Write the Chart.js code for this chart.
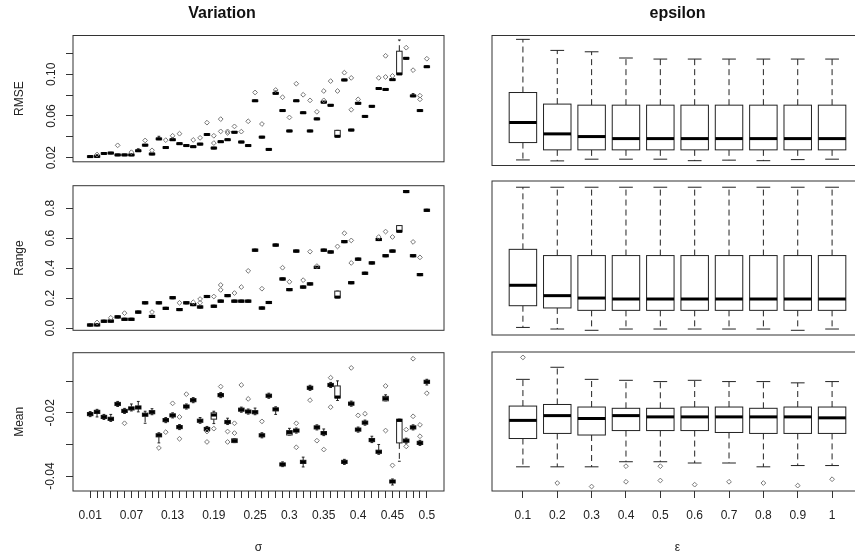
<!DOCTYPE html>
<html>
<head>
<meta charset="utf-8">
<script src="https://cdn.jsdelivr.net/npm/chart.js@4.4.0/dist/chart.umd.min.js"></script>
<style>
  body { margin: 0; background: #fff; width: 855px; height: 555px; overflow: hidden; position: relative; }
  canvas { position: absolute; }
</style>
</head>
<body>
<canvas id="tl" width="460" height="172" style="left:0;top:0"></canvas>
<canvas id="tr" width="440" height="172" style="left:440px;top:0"></canvas>
<canvas id="ml" width="460" height="172" style="left:0;top:172px"></canvas>
<canvas id="mr" width="440" height="172" style="left:440px;top:172px"></canvas>
<canvas id="bl" width="460" height="211" style="left:0;top:344px"></canvas>
<canvas id="br" width="440" height="211" style="left:440px;top:344px"></canvas>
<script>
// categories
const sigma = ['0.01','0.02','0.03','0.04','0.05','0.06','0.07','0.08','0.09','0.1',
  '0.11','0.12','0.13','0.14','0.15','0.16','0.17','0.18','0.19','0.2',
  '0.21','0.22','0.23','0.24','0.25','0.26','0.27','0.28','0.29','0.3',
  '0.31','0.32','0.33','0.34','0.35','0.36','0.37','0.38','0.39','0.4',
  '0.41','0.42','0.43','0.44','0.45','0.46','0.47','0.48','0.49','0.5'];
const sigmaShown = ['0.01','0.07','0.13','0.19','0.25','0.3','0.35','0.4','0.45','0.5'];
const epsilon = ['0.1','0.2','0.3','0.4','0.5','0.6','0.7','0.8','0.9','1'];

// y tick values / labels
const rmseTicks = [0.02, 0.04, 0.06, 0.08, 0.10, 0.12];
const rmseTickLabels = ['0.02', '', '0.06', '', '0.10', ''];
const rangeTicks = [0, 0.2, 0.4, 0.6, 0.8];
const rangeTickLabels = ['0.0', '0.2', '0.4', '0.6', '0.8'];
const meanTicks = [-0.04, -0.03, -0.02, -0.01];
const meanTickLabels = ['-0.04', '', '-0.02', ''];

// Variation: RMSE
const rmseMed = [0.0210,0.0212,0.0240,0.0244,0.0226,0.0226,0.0226,0.0266,0.0320,0.0235,0.0380,0.0297,0.0372,0.0334,0.0316,0.0305,0.0330,0.0422,0.0292,0.0353,0.0372,0.0444,0.0350,0.0316,0.0746,0.0397,0.0279,0.0818,0.0652,0.0456,0.0746,0.0631,0.0456,0.0572,0.0733,0.0703,0.0405,0.0946,0.0465,0.0722,0.0596,0.0693,0.0864,0.0855,0.0949,0.1004,0.1154,0.0793,0.0652,0.1073];
const rmseQ1 = [0.0203,0.0205,0.0233,0.0237,0.0219,0.0219,0.0219,0.0259,0.0313,0.0228,0.0373,0.0290,0.0365,0.0327,0.0309,0.0298,0.0323,0.0415,0.0285,0.0346,0.0365,0.0437,0.0343,0.0309,0.0739,0.0390,0.0272,0.0811,0.0645,0.0449,0.0739,0.0624,0.0449,0.0565,0.0726,0.0696,0.0400,0.0939,0.0458,0.0715,0.0589,0.0686,0.0857,0.0848,0.0942,0.1000,0.1147,0.0786,0.0645,0.1066];
const rmseQ3 = [0.0217,0.0219,0.0247,0.0251,0.0233,0.0233,0.0233,0.0273,0.0327,0.0242,0.0387,0.0304,0.0379,0.0341,0.0323,0.0312,0.0337,0.0429,0.0299,0.0360,0.0379,0.0451,0.0357,0.0323,0.0753,0.0404,0.0286,0.0825,0.0659,0.0463,0.0753,0.0638,0.0463,0.0579,0.0740,0.0710,0.0462,0.0953,0.0472,0.0729,0.0603,0.0700,0.0871,0.0862,0.0956,0.1222,0.1161,0.0800,0.0659,0.1080];
const rmseLo = rmseQ1;
const rmseHi = [0.0217,0.0228,0.0247,0.0251,0.0233,0.0233,0.0233,0.0285,0.0327,0.0242,0.0405,0.0304,0.0390,0.0341,0.0323,0.0312,0.0337,0.0429,0.0299,0.0360,0.0379,0.0451,0.0357,0.0323,0.0753,0.0404,0.0286,0.0840,0.0659,0.0463,0.0753,0.0638,0.0463,0.0579,0.0740,0.0710,0.0462,0.0953,0.0472,0.0729,0.0603,0.0700,0.0871,0.0862,0.0956,0.1330,0.1161,0.0815,0.0659,0.1080];
const rmseOut = [[],[0.0230],[],[],[0.0318],[],[0.0252],[],[0.0365],[0.0270],[],[0.0368],[0.0410],[0.0430],[],[0.0370],[0.0390],[0.0536],[0.0340,0.0410],[0.0452,0.0570],[0.0452,0.0437],[0.0500],[0.0450],[0.0549],[0.0826],[0.0523],[],[0.0850],[0.0780],[0.0586],[0.0910],[0.0804],[0.0750],[0.0640],[0.0750,0.0840],[0.0935],[0.0840],[0.1016],[0.0660,0.0966],[0.0760],[],[],[0.0966],[0.0975,0.1178],[0.0985],[],[0.1256],[0.1040],[0.0795,0.0760],[0.1150]];

// Variation: Range
const rangeMed = [0.021,0.022,0.046,0.047,0.075,0.059,0.059,0.107,0.169,0.078,0.169,0.132,0.203,0.124,0.169,0.157,0.141,0.211,0.146,0.180,0.217,0.180,0.180,0.180,0.520,0.134,0.171,0.554,0.328,0.257,0.514,0.274,0.295,0.405,0.520,0.508,0.207,0.577,0.303,0.460,0.366,0.435,0.591,0.483,0.514,0.646,0.911,0.483,0.357,0.786];
const rangeQ1 = [0.014,0.015,0.039,0.040,0.068,0.052,0.052,0.100,0.162,0.071,0.162,0.125,0.196,0.117,0.162,0.150,0.134,0.204,0.139,0.173,0.210,0.173,0.173,0.173,0.513,0.127,0.164,0.547,0.321,0.250,0.507,0.267,0.288,0.398,0.513,0.501,0.203,0.570,0.296,0.453,0.359,0.428,0.584,0.476,0.507,0.642,0.904,0.476,0.350,0.779];
const rangeQ3 = [0.028,0.029,0.053,0.054,0.082,0.066,0.066,0.114,0.176,0.085,0.176,0.139,0.210,0.131,0.176,0.164,0.148,0.218,0.153,0.187,0.224,0.187,0.187,0.187,0.527,0.141,0.178,0.561,0.335,0.264,0.521,0.281,0.302,0.412,0.527,0.515,0.247,0.584,0.310,0.467,0.373,0.442,0.598,0.490,0.521,0.684,0.918,0.490,0.364,0.793];
const rangeLo = rangeQ1;
const rangeHi = rangeQ3;
const rangeOut = [[],[0.038],[],[0.069],[],[0.100],[],[],[],[0.107],[],[],[],[0.169],[],[0.173],[0.194,0.169],[],[0.211],[0.255,0.288],[],[0.234],[0.274],[0.382],[],[0.263],[],[],[0.403],[0.309],[],[0.320],[0.510],[0.414],[],[],[0.545],[0.633],[0.435,0.585],[],[],[],[0.608],[0.644],[0.608],[],[],[0.575],[0.472],[]];

// Variation: Mean
const meanMed = [-0.0204,-0.0197,-0.0213,-0.0219,-0.0172,-0.0194,-0.0186,-0.0183,-0.0206,-0.0198,-0.0271,-0.0223,-0.0208,-0.0245,-0.0180,-0.0160,-0.0225,-0.0251,-0.0207,-0.0144,-0.0229,-0.0288,-0.0190,-0.0196,-0.0198,-0.0271,-0.0146,-0.0189,-0.0363,-0.0262,-0.0256,-0.0355,-0.0121,-0.0246,-0.0264,-0.0112,-0.0150,-0.0355,-0.0171,-0.0253,-0.0231,-0.0286,-0.0323,-0.0155,-0.0417,-0.0224,-0.0288,-0.0246,-0.0295,-0.0102];
const meanQ1 = [-0.0209,-0.0202,-0.0218,-0.0224,-0.0177,-0.0199,-0.0191,-0.0188,-0.0211,-0.0203,-0.0276,-0.0228,-0.0213,-0.0250,-0.0185,-0.0165,-0.0230,-0.0256,-0.0220,-0.0149,-0.0234,-0.0294,-0.0195,-0.0201,-0.0203,-0.0276,-0.0151,-0.0194,-0.0368,-0.0270,-0.0261,-0.0360,-0.0126,-0.0251,-0.0269,-0.0117,-0.0153,-0.0360,-0.0176,-0.0258,-0.0236,-0.0291,-0.0328,-0.0162,-0.0422,-0.0295,-0.0293,-0.0251,-0.0300,-0.0107];
const meanQ3 = [-0.0199,-0.0192,-0.0208,-0.0214,-0.0167,-0.0189,-0.0181,-0.0178,-0.0201,-0.0193,-0.0266,-0.0218,-0.0203,-0.0240,-0.0175,-0.0155,-0.0220,-0.0246,-0.0200,-0.0139,-0.0224,-0.0282,-0.0185,-0.0191,-0.0193,-0.0266,-0.0141,-0.0184,-0.0358,-0.0256,-0.0251,-0.0350,-0.0116,-0.0241,-0.0259,-0.0107,-0.0115,-0.0350,-0.0166,-0.0248,-0.0226,-0.0281,-0.0318,-0.0148,-0.0412,-0.0220,-0.0283,-0.0241,-0.0290,-0.0097];
const meanLo = [-0.0212,-0.0213,-0.0221,-0.0227,-0.0180,-0.0202,-0.0194,-0.0197,-0.0233,-0.0206,-0.0295,-0.0231,-0.0216,-0.0253,-0.0188,-0.0168,-0.0233,-0.0259,-0.0234,-0.0152,-0.0237,-0.0294,-0.0198,-0.0204,-0.0206,-0.0279,-0.0154,-0.0205,-0.0370,-0.0270,-0.0264,-0.0371,-0.0129,-0.0254,-0.0272,-0.0120,-0.0161,-0.0363,-0.0179,-0.0261,-0.0239,-0.0294,-0.0331,-0.0162,-0.0428,-0.0353,-0.0296,-0.0254,-0.0303,-0.0112];
const meanHi = [-0.0196,-0.0189,-0.0205,-0.0205,-0.0164,-0.0186,-0.0172,-0.0164,-0.0195,-0.0187,-0.0263,-0.0215,-0.0200,-0.0237,-0.0172,-0.0152,-0.0215,-0.0243,-0.0195,-0.0136,-0.0217,-0.0282,-0.0182,-0.0188,-0.0185,-0.0263,-0.0138,-0.0181,-0.0355,-0.0249,-0.0248,-0.0340,-0.0113,-0.0238,-0.0251,-0.0104,-0.0099,-0.0347,-0.0163,-0.0245,-0.0223,-0.0274,-0.0300,-0.0143,-0.0409,-0.0220,-0.0280,-0.0238,-0.0287,-0.0094];
const meanOut = [[],[],[],[],[],[-0.0233],[],[],[],[],[-0.0311],[-0.0261],[-0.0170],[-0.0213,-0.0282],[-0.0141],[],[],[-0.0259,-0.0292],[-0.0250],[-0.0117],[-0.0259,-0.0292],[-0.0233,-0.0264],[-0.0112],[-0.0156],[],[-0.0227],[],[],[],[],[-0.0233,-0.0309],[],[-0.0160],[-0.0288],[-0.0316],[-0.0089,-0.0182],[],[],[-0.0058],[-0.0208],[-0.0203],[],[],[-0.0115,-0.0256],[-0.0366],[],[-0.0253,-0.0306],[-0.0029,-0.0211],[-0.0238,-0.0274],[-0.0138]];

// epsilon: RMSE
const epsRmseMed = [0.0561,0.0455,0.0430,0.0411,0.0411,0.0411,0.0411,0.0411,0.0411,0.0411];
const epsRmseQ1 = [0.0374,0.0306,0.0306,0.0306,0.0306,0.0306,0.0306,0.0306,0.0306,0.0306];
const epsRmseQ3 = [0.0841,0.0733,0.0723,0.0723,0.0723,0.0723,0.0723,0.0723,0.0723,0.0723];
const epsRmseLo = [0.0212,0.0203,0.0219,0.0219,0.0219,0.0205,0.0210,0.0205,0.0215,0.0219];
const epsRmseHi = [0.1337,0.1234,0.1221,0.1163,0.1153,0.1153,0.1153,0.1153,0.1153,0.1153];
const epsRmseOut = [[],[],[],[],[],[],[],[],[],[]];

// epsilon: Range
const epsRangeMed = [0.297,0.232,0.217,0.211,0.211,0.211,0.211,0.211,0.211,0.211];
const epsRangeQ1 = [0.169,0.155,0.140,0.140,0.140,0.140,0.140,0.140,0.140,0.140];
const epsRangeQ3 = [0.522,0.483,0.483,0.483,0.483,0.483,0.483,0.483,0.483,0.483];
const epsRangeLo = [0.033,0.023,0.015,0.023,0.023,0.023,0.023,0.023,0.015,0.023];
const epsRangeHi = [0.911,0.911,0.911,0.911,0.911,0.911,0.911,0.911,0.911,0.911];
const epsRangeOut = [[],[],[],[],[],[],[],[],[],[]];

// epsilon: Mean
const epsMeanMed = [-0.0225,-0.0210,-0.0219,-0.0210,-0.0214,-0.0214,-0.0214,-0.0214,-0.0214,-0.0217];
const epsMeanQ1 = [-0.0282,-0.0266,-0.0271,-0.0257,-0.0257,-0.0257,-0.0263,-0.0266,-0.0266,-0.0266];
const epsMeanQ3 = [-0.0180,-0.0175,-0.0183,-0.0187,-0.0187,-0.0183,-0.0183,-0.0187,-0.0183,-0.0183];
const epsMeanLo = [-0.0371,-0.0371,-0.0371,-0.0355,-0.0355,-0.0359,-0.0359,-0.0371,-0.0367,-0.0367];
const epsMeanHi = [-0.0096,-0.0058,-0.0096,-0.0099,-0.0103,-0.0099,-0.0103,-0.0103,-0.0107,-0.0103];
const epsMeanOut = [[-0.0027],[-0.0422],[-0.0433],[-0.0369,-0.0418],[-0.0369,-0.0414],[-0.0427],[-0.0418],[-0.0422],[-0.0430],[-0.0410]];

const FONT = "'Liberation Sans', Arial, sans-serif";
const INK = '#222';

// draws R-style boxplots from the stats arrays, using the chart's own scales
function boxPlugin(s) {
    return {
        id: 'rboxes',
        beforeDatasetsDraw(chart) {
            const { ctx, scales: { x, y } } = chart;
            const seg = (x1, y1, x2, y2) => {
                ctx.beginPath(); ctx.moveTo(x1, y1); ctx.lineTo(x2, y2); ctx.stroke();
            };
            ctx.save();
            s.med.forEach((m, i) => {
                const pos = i + 1;
                const cx = x.getPixelForValue(pos);
                const hw = (x.getPixelForValue(pos + 0.4) - x.getPixelForValue(pos - 0.4)) / 2;
                const yq1 = y.getPixelForValue(s.q1[i]);
                const yq3 = y.getPixelForValue(s.q3[i]);
                const ylo = y.getPixelForValue(s.lo[i]);
                const yhi = y.getPixelForValue(s.hi[i]);
                ctx.strokeStyle = INK;
                ctx.lineWidth = 1;
                ctx.setLineDash([6, 4]);
                seg(cx, yq3, cx, yhi);
                seg(cx, yq1, cx, ylo);
                ctx.setLineDash([]);
                seg(cx - hw / 2, yhi, cx + hw / 2, yhi);
                seg(cx - hw / 2, ylo, cx + hw / 2, ylo);
                ctx.fillStyle = '#fff';
                ctx.fillRect(cx - hw, yq3, 2 * hw, yq1 - yq3);
                ctx.strokeRect(cx - hw, yq3, 2 * hw, yq1 - yq3);
                ctx.strokeStyle = '#000';
                ctx.lineWidth = 3;
                const ym = y.getPixelForValue(m);
                seg(cx - hw, ym, cx + hw, ym);
            });
            ctx.restore();
        },
        afterDraw(chart) {
            const { ctx, chartArea: a } = chart;
            ctx.save();
            ctx.strokeStyle = '#333';
            ctx.lineWidth = 1;
            ctx.strokeRect(a.left, a.top, a.right - a.left, a.bottom - a.top);
            ctx.restore();
        }
    };
}

function makePanel(id, p) {
    const points = p.out.flatMap((vals, i) => vals.map(v => ({ x: i + 1, y: v })));
    const xScale = {
        type: 'linear', min: p.xMin, max: p.xMax, display: !!p.xTitle,
        afterBuildTicks: s => { s.ticks = p.cats.map((_, i) => ({ value: i + 1 })); },
        afterFit: s => { s.height = p.xTitle ? 64 : 0; },
        ticks: {
            autoSkip: false, minRotation: 0, maxRotation: 0, padding: 10, color: INK,
            font: { family: FONT, size: 12 },
            callback: (v, i) => p.shown.includes(p.cats[i]) ? p.cats[i] : ''
        },
        grid: { drawOnChartArea: false, tickLength: 7, color: '#333' },
        border: { display: false },
        title: { display: !!p.xTitle, text: p.xTitle, color: INK, font: { family: FONT, size: 12 }, padding: { top: 0, bottom: 0.5 } }
    };
    const yScale = {
        type: 'linear', min: p.yMin, max: p.yMax, display: !!p.yTitle,
        afterBuildTicks: s => { s.ticks = (p.yTicks || []).map(v => ({ value: v })); },
        afterFit: s => { s.width = p.yTitle ? 73 : 0; },
        ticks: {
            autoSkip: false, minRotation: 90, maxRotation: 90, crossAlign: 'center',
            padding: p.yPad, color: INK, font: { family: FONT, size: 12 },
            callback: (v, i) => p.yLabels[i]
        },
        grid: { drawOnChartArea: false, tickLength: 7, color: '#333' },
        border: { display: false },
        title: { display: !!p.yTitle, text: p.yTitle, color: INK, font: { family: FONT, size: 12 }, padding: { top: 12, bottom: 0 } }
    };
    return new Chart(document.getElementById(id), {
        type: 'scatter',
        data: {
            datasets: [{
                data: points,
                pointStyle: 'rectRot',
                pointRadius: 2.4,
                borderWidth: 1,
                borderColor: '#777',
                backgroundColor: 'rgba(0,0,0,0)'
            }]
        },
        options: {
            responsive: false,
            animation: false,
            events: [],
            layout: { padding: p.padding },
            plugins: {
                legend: { display: false },
                tooltip: { enabled: false },
                title: {
                    display: !!p.title, text: p.title, color: '#111',
                    font: { family: FONT, size: 16, weight: 'bold' },
                    padding: { top: 4, bottom: 12.3 }
                }
            },
            scales: { x: xScale, y: yScale }
        },
        plugins: [boxPlugin(p)]
    });
}

const leftX = { cats: sigma, shown: sigmaShown, xMin: -1.5, xMax: 52.5 };
const rightX = { cats: epsilon, shown: epsilon, xMin: 0.1, xMax: 10.9 };
const rmseY = { yMin: 0.0160, yMax: 0.1373 };
const rangeY = { yMin: -0.0144, yMax: 0.950 };
const meanY = { yMin: -0.0447, yMax: -0.0010 };

makePanel('tl', Object.assign({}, leftX, rmseY, {
    title: 'Variation', yTitle: 'RMSE', yTicks: rmseTicks, yLabels: rmseTickLabels, yPad: 3,
    med: rmseMed, q1: rmseQ1, q3: rmseQ3, lo: rmseLo, hi: rmseHi, out: rmseOut,
    padding: { left: 0, right: 16, top: 0, bottom: 6.5 }
}));
makePanel('tr', Object.assign({}, rightX, rmseY, {
    title: 'epsilon',
    med: epsRmseMed, q1: epsRmseQ1, q3: epsRmseQ3, lo: epsRmseLo, hi: epsRmseHi, out: epsRmseOut,
    padding: { left: 52, right: 17, top: 0, bottom: 6.5 }
}));
makePanel('ml', Object.assign({}, leftX, rangeY, {
    yTitle: 'Range', yTicks: rangeTicks, yLabels: rangeTickLabels, yPad: 6.5,
    med: rangeMed, q1: rangeQ1, q3: rangeQ3, lo: rangeLo, hi: rangeHi, out: rangeOut,
    padding: { left: 0, right: 16, top: 9, bottom: 9 }
}));
makePanel('mr', Object.assign({}, rightX, rangeY, {
    med: epsRangeMed, q1: epsRangeQ1, q3: epsRangeQ3, lo: epsRangeLo, hi: epsRangeHi, out: epsRangeOut,
    padding: { left: 52, right: 17, top: 9, bottom: 9 }
}));
makePanel('bl', Object.assign({}, leftX, meanY, {
    xTitle: 'σ', yTitle: 'Mean', yTicks: meanTicks, yLabels: meanTickLabels, yPad: 1.5,
    med: meanMed, q1: meanQ1, q3: meanQ3, lo: meanLo, hi: meanHi, out: meanOut,
    padding: { left: 0, right: 16, top: 8, bottom: 0 }
}));
makePanel('br', Object.assign({}, rightX, meanY, {
    xTitle: 'ε',
    med: epsMeanMed, q1: epsMeanQ1, q3: epsMeanQ3, lo: epsMeanLo, hi: epsMeanHi, out: epsMeanOut,
    padding: { left: 52, right: 17, top: 8, bottom: 0 }
}));
</script>
</body>
</html>
